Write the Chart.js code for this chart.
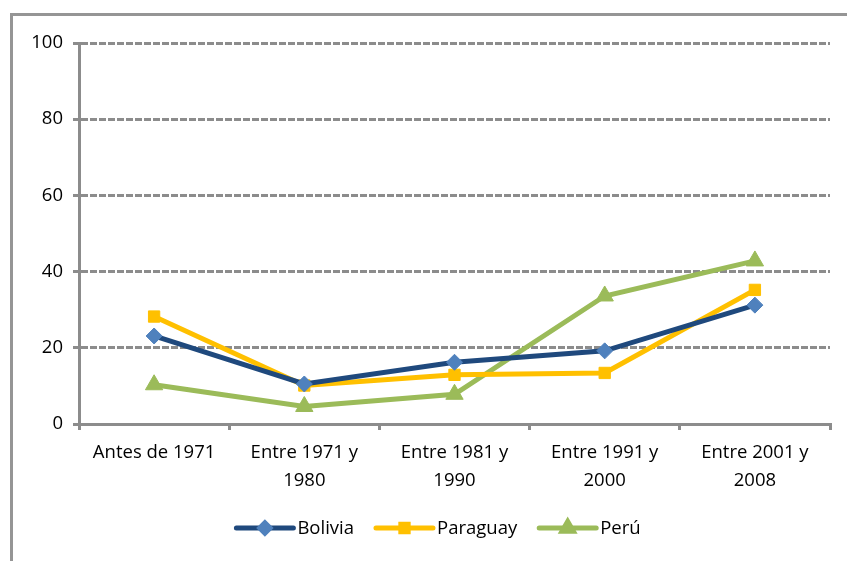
<!DOCTYPE html>
<html>
<head>
<meta charset="utf-8">
<script src="https://cdn.jsdelivr.net/npm/chart.js@4.4.1/dist/chart.umd.min.js"></script>
<style>
  html, body { margin: 0; padding: 0; background: #fff; }
  #wrap { width: 847px; height: 561px; position: relative; }
</style>
</head>
<body>
<div id="wrap"><canvas id="chart" width="847" height="561"></canvas></div>
<script>
const categories = [
  ["Antes de 1971"],
  ["Entre 1971 y", "1980"],
  ["Entre 1981 y", "1990"],
  ["Entre 1991 y", "2000"],
  ["Entre 2001 y", "2008"]
];
const bolivia = [23.1, 10.5, 16.2, 19.2, 31.2];
const paraguay = [28.2, 10.1, 12.9, 13.4, 35.2];
const peru = [10.3, 4.6, 7.8, 33.6, 42.8];
const yTicks = [0, 20, 40, 60, 80, 100];

const FONT = "'Open Sans', Lato, sans-serif";
const FONT_SIZE = 18.5;
const GRAY = "#8c8c8c";

const frame = {
  id: "frame",
  beforeDraw(chart) {
    const ctx = chart.ctx;
    ctx.save();
    ctx.strokeStyle = "#959595";
    ctx.lineWidth = 3;
    ctx.strokeRect(11.5, 14.5, 900, 600);
    ctx.restore();
  }
};

// legend with line + marker, like the original
const lineLegend = {
  id: "lineLegend",
  afterDraw(chart) {
    const ctx = chart.ctx;
    const items = chart.data.datasets;
    const y = 528;
    const lineLen = 57;
    const gap = 4;
    const spacing = 22;
    ctx.save();
    ctx.font = FONT_SIZE + "px " + FONT;
    ctx.textBaseline = "middle";
    let total = 0;
    const widths = items.map(ds => ctx.measureText(ds.label).width);
    widths.forEach(w => { total += lineLen + gap + w; });
    total += spacing * (items.length - 1);
    let x = (847 - total) / 2 + 15;
    items.forEach((ds, i) => {
      ctx.strokeStyle = ds.borderColor;
      ctx.lineWidth = 5;
      ctx.lineCap = "round";
      ctx.beginPath();
      ctx.moveTo(x, y);
      ctx.lineTo(x + lineLen, y);
      ctx.stroke();
      ctx.fillStyle = ds.pointBackgroundColor;
      ctx.strokeStyle = ds.pointBorderColor;
      Chart.helpers.drawPoint(ctx, {
        pointStyle: ds.pointStyle,
        radius: ds.pointRadius * 0.65,
        rotation: 0,
        borderWidth: 1
      }, x + lineLen / 2, y);
      ctx.fillStyle = "#000";
      ctx.fillText(ds.label, x + lineLen + gap, y + 1);
      x += lineLen + gap + widths[i] + spacing;
    });
    ctx.restore();
  }
};

new Chart(document.getElementById("chart"), {
  type: "line",
  data: {
    labels: categories,
    datasets: [
      {
        label: "Bolivia",
        data: bolivia,
        borderColor: "#1f497d",
        borderWidth: 5,
        pointStyle: "rectRot",
        pointRadius: 8,
        pointBackgroundColor: "#4f81bd",
        pointBorderColor: "#4f81bd",
        pointBorderWidth: 1,
        tension: 0
      },
      {
        label: "Paraguay",
        data: paraguay,
        borderColor: "#ffc000",
        borderWidth: 5,
        pointStyle: "rect",
        pointRadius: 8,
        pointBackgroundColor: "#ffc000",
        pointBorderColor: "#ffc000",
        pointBorderWidth: 1,
        tension: 0
      },
      {
        label: "Perú",
        data: peru,
        borderColor: "#9bbb59",
        borderWidth: 5,
        pointStyle: "triangle",
        pointRadius: 10,
        pointBackgroundColor: "#9bbb59",
        pointBorderColor: "#9bbb59",
        pointBorderWidth: 1,
        tension: 0
      }
    ]
  },
  options: {
    responsive: false,
    animation: false,
    layout: { padding: { top: 43, right: 17, left: 0, bottom: 0 } },
    plugins: {
      legend: { display: false },
      tooltip: { enabled: false }
    },
    scales: {
      x: {
        offset: true,
        grid: {
          offset: true,
          drawOnChartArea: false,
          drawTicks: true,
          tickLength: 6,
          color: GRAY,
          lineWidth: 3
        },
        border: { color: GRAY, width: 3 },
        ticks: {
          color: "#000",
          font: { family: FONT, size: FONT_SIZE, lineHeight: 1.5 },
          padding: 9,
          maxRotation: 0,
          autoSkip: false
        },
        afterFit(scale) { scale.height = 137; }
      },
      y: {
        min: 0,
        max: 100,
        afterBuildTicks(scale) { scale.ticks = yTicks.map(v => ({ value: v })); },
        grid: {
          color: GRAY,
          lineWidth: 3,
          tickLength: 6
        },
        border: { color: GRAY, width: 3, dash: [7, 2] },
        ticks: {
          color: "#000",
          font: { family: FONT, size: FONT_SIZE },
          padding: 10
        },
        afterFit(scale) { scale.width = 79; }
      }
    }
  },
  plugins: [frame, lineLegend]
});
</script>
</body>
</html>
